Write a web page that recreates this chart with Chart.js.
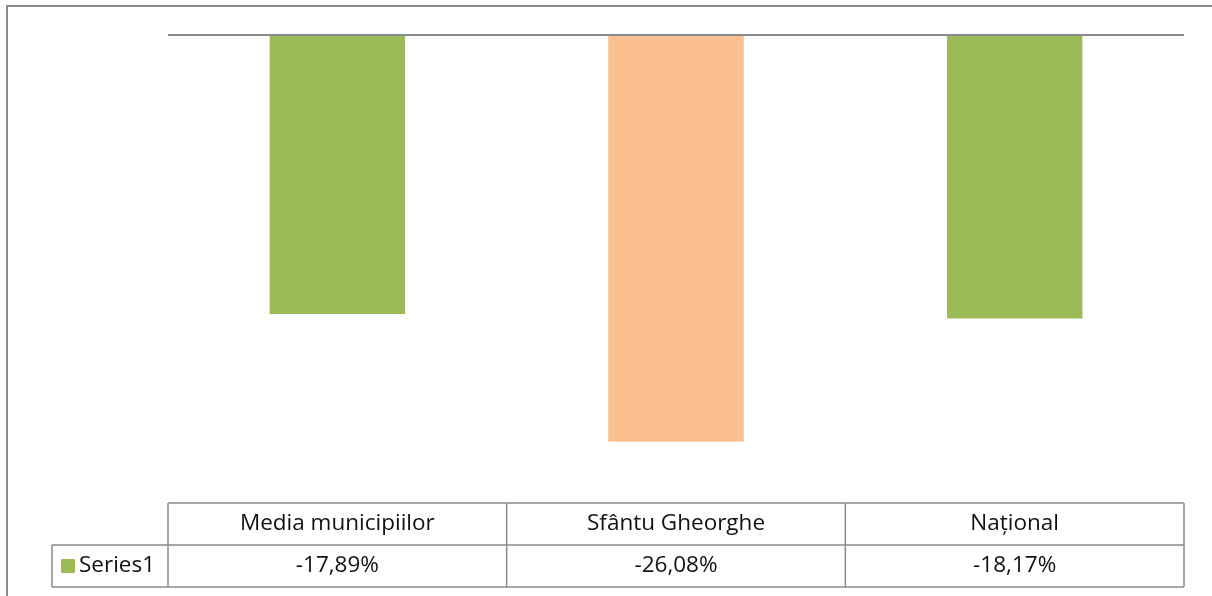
<!DOCTYPE html>
<html>
<head>
<meta charset="utf-8">
<script src="https://cdn.jsdelivr.net/npm/chart.js@4"></script>
<style>
    body { margin: 0; background: #fff; }
    canvas { display: block; }
</style>
</head>
<body>
<canvas id="chart" width="1212" height="596"></canvas>
<script>
// Data
const categories = ['Media municipiilor', 'Sfântu Gheorghe', 'Național'];
const seriesName = 'Series1';
const seriesValues = [-17.89, -26.08, -18.17];
const valueLabels = ['-17,89%', '-26,08%', '-18,17%'];
const barColors = ['#9BBB59', '#FAC090', '#9BBB59'];

const lineColor = '#8a8a8a';
const fontFamily = '"Open Sans", "Noto Sans", sans-serif';

// Draws the frame, the zero line and the data table under the bars
const tablePlugin = {
    id: 'dataTable',
    afterDraw(chart) {
        const ctx = chart.ctx;
        const x = chart.scales.x;
        const y = chart.scales.y;
        const area = chart.chartArea;

        ctx.save();

        // outer frame (only the left and top edges are in the picture)
        ctx.strokeStyle = lineColor;
        ctx.lineWidth = 2;
        ctx.beginPath();
        ctx.moveTo(7, 596);
        ctx.lineTo(7, 6);
        ctx.lineTo(1212, 6);
        ctx.stroke();

        // zero line
        const zeroY = y.getPixelForValue(0);
        ctx.beginPath();
        ctx.moveTo(area.left, zeroY);
        ctx.lineTo(area.right, zeroY);
        ctx.stroke();

        // table
        const rowH = 42;
        const top = area.bottom;
        const mid = top + rowH;
        const bottom = mid + rowH;
        const legendLeft = 52;
        const step = (area.right - area.left) / categories.length;

        ctx.lineWidth = 1.5;
        ctx.beginPath();
        ctx.moveTo(area.left, top); ctx.lineTo(area.right, top);
        ctx.moveTo(legendLeft, mid); ctx.lineTo(area.right, mid);
        ctx.moveTo(legendLeft, bottom); ctx.lineTo(area.right, bottom);
        ctx.moveTo(legendLeft, mid); ctx.lineTo(legendLeft, bottom);
        for (let i = 0; i <= categories.length; i++) {
            const cx = area.left + step * i;
            ctx.moveTo(cx, top); ctx.lineTo(cx, bottom);
        }
        ctx.stroke();

        ctx.fillStyle = '#111';
        ctx.font = '22.5px ' + fontFamily;
        ctx.textAlign = 'center';
        ctx.textBaseline = 'middle';
        categories.forEach((cat, i) => {
            const cx = x.getPixelForValue(i);
            ctx.fillText(cat, cx, top + rowH / 2);
            ctx.fillText(valueLabels[i], cx, mid + rowH / 2);
        });

        // legend key
        ctx.fillStyle = barColors[0];
        ctx.fillRect(61, mid + 14, 14, 14);
        ctx.fillStyle = '#111';
        ctx.textAlign = 'left';
        ctx.fillText(seriesName, 79, mid + rowH / 2);

        ctx.restore();
    }
};

const ctx = document.getElementById('chart').getContext('2d');
new Chart(ctx, {
    type: 'bar',
    data: {
        labels: categories,
        datasets: [{
            label: seriesName,
            data: seriesValues,
            backgroundColor: barColors,
            borderWidth: 0,
            barPercentage: 0.4,
            categoryPercentage: 1
        }]
    },
    options: {
        responsive: false,
        animation: false,
        layout: {
            padding: { top: 35, left: 168, right: 28, bottom: 93 }
        },
        plugins: {
            legend: { display: false },
            tooltip: { enabled: false }
        },
        scales: {
            x: { display: false },
            y: { display: false, min: -30, max: 0 }
        }
    },
    plugins: [tablePlugin]
});
</script>
</body>
</html>
